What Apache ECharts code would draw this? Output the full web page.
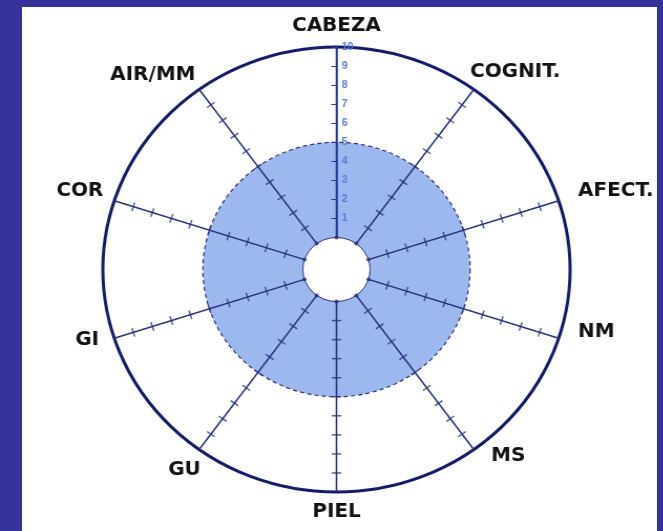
<!DOCTYPE html>
<html>
<head>
<meta charset="utf-8">
<script src="https://cdn.jsdelivr.net/npm/echarts@6/dist/echarts.min.js"></script>
<style>
  html, body { margin: 0; padding: 0; width: 663px; height: 531px; background: #353399; overflow: hidden; }
  #panel { position: absolute; left: 22px; top: 7px; width: 635px; height: 524px; background: #fff; overflow: hidden; }
  /* the scanned original is a little wider than tall */
  #chart { width: 605px; height: 524px; transform: scaleX(1.05); transform-origin: 0 0; }
</style>
</head>
<body>
<div id="panel"><div id="chart"></div></div>
<script>
// spokes, clockwise from the top
const categories = ["CABEZA", "COGNIT.", "AFECT.", "NM", "MS", "PIEL", "GU", "GI", "COR", "AIR/MM"];
// tick marks along each spoke
const spokeTicks = [1, 2, 3, 4, 5, 6, 7, 8, 9];
// shaded zone reaches this level on every spoke
const shadedLevel = [5];
const radiusMin = 0;
const radiusMax = 10;

const navy = "#141b68";
const spokeColor = "#26307c";

// small label nudges [top, right, bottom, left] so names sit like the original
const labelPadding = {
  "COGNIT.": [0, 0, -1, -10],
  "AFECT.": [0, 0, -3, 8],
  "NM": [-19, 0, 0, 8],
  "MS": [-12, 0, 0, 10],
  "GU": [2, -8, 0, 0],
  "GI": [-11, 4, 0, 0],
  "COR": [0, 0, -3, 0],
  "AIR/MM": [0, -3, -4, 0]
};

const chart = echarts.init(document.getElementById("chart"));

// perpendicular tick marks on every spoke except the top one (that one is the radius axis)
const tickData = [];
categories.forEach((cat, i) => {
  if (i === 0) return;
  spokeTicks.forEach((v) => {
    tickData.push({ value: [v, cat], symbolRotate: 180 - 36 * i });
  });
});
const holeDots = categories.map((cat) => [radiusMin, cat]);

chart.setOption({
  animation: false,
  polar: {
    center: [299.5, 262.5],
    radius: [32, 222.5]
  },
  angleAxis: {
    type: "category",
    data: categories.map((cat) => ({
      value: cat,
      textStyle: labelPadding[cat] ? { padding: labelPadding[cat] } : {}
    })),
    startAngle: 90,
    clockwise: true,
    boundaryGap: false,
    axisLine: { show: false },
    axisTick: { show: false },
    axisLabel: {
      color: "#111",
      fontFamily: "DejaVu Sans",
      fontWeight: "bold",
      fontSize: 19,
      margin: 11
    },
    splitLine: { show: true, lineStyle: { color: spokeColor, width: 1.5 } }
  },
  radiusAxis: {
    type: "value",
    min: radiusMin,
    max: radiusMax,
    interval: 1,
    axisLine: { show: true, lineStyle: { color: "#2a3a9c", width: 1.5 } },
    axisTick: { show: true, length: 5, lineStyle: { color: "#2a3a9c" } },
    axisLabel: {
      showMinLabel: false,
      align: "left",
      color: "#5a7bd8",
      fontFamily: "Liberation Sans Narrow, Liberation Sans",
      fontWeight: "bold",
      fontSize: 10,
      margin: -5
    },
    splitLine: { show: false }
  },
  series: [
    {
      type: "custom",
      coordinateSystem: "polar",
      z: -1,
      silent: true,
      data: shadedLevel.map((v) => [v, categories[0]]),
      renderItem: function (params, api) {
        const cs = params.coordSys;
        const pt = api.coord([api.value(0), 0]);
        const r = Math.hypot(pt[0] - cs.cx, pt[1] - cs.cy);
        const p0 = api.coord([radiusMin, 0]);
        const r0 = Math.hypot(p0[0] - cs.cx, p0[1] - cs.cy);
        const pMax = api.coord([radiusMax, 0]);
        const rMax = Math.hypot(pMax[0] - cs.cx, pMax[1] - cs.cy);
        return {
          type: "group",
          children: [
            { type: "ring", shape: { cx: cs.cx, cy: cs.cy, r: r, r0: r0 }, style: { fill: "#9db8ef" } },
            { type: "circle", shape: { cx: cs.cx, cy: cs.cy, r: r }, style: { fill: null, stroke: "#2b3370", lineWidth: 1.2, lineDash: [4, 3] } },
            { type: "circle", shape: { cx: cs.cx, cy: cs.cy, r: r0 }, style: { fill: null, stroke: "#2b3370", lineWidth: 1 } },
            { type: "circle", shape: { cx: cs.cx, cy: cs.cy, r: rMax }, style: { fill: null, stroke: navy, lineWidth: 3 } }
          ]
        };
      }
    },
    {
      type: "scatter",
      coordinateSystem: "polar",
      silent: true,
      symbol: "rect",
      symbolSize: [9, 1.4],
      itemStyle: { color: spokeColor },
      data: tickData
    },
    {
      type: "scatter",
      coordinateSystem: "polar",
      silent: true,
      symbol: "circle",
      symbolSize: 4,
      itemStyle: { color: spokeColor },
      data: holeDots
    }
  ]
});
</script>
</body>
</html>
